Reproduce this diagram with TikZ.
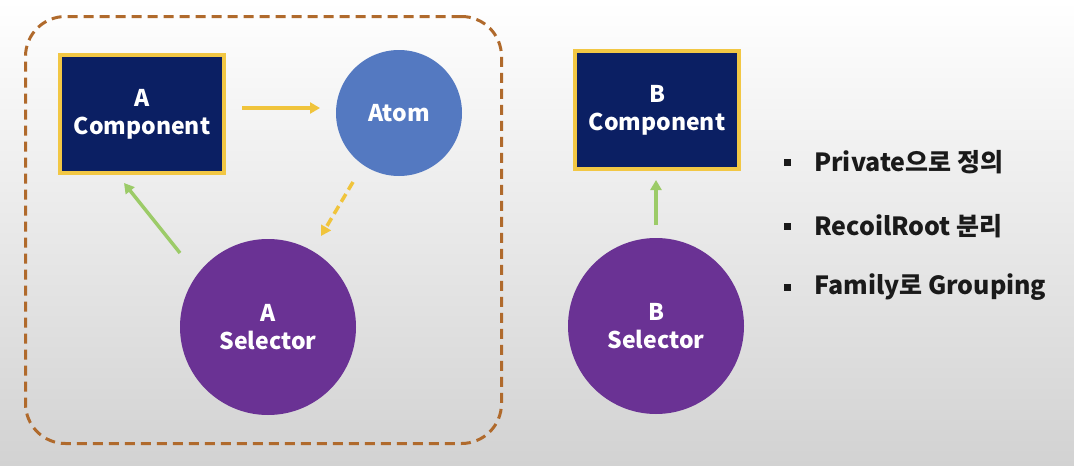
\documentclass[tikz,border=0pt]{standalone}
\usepackage{fontspec}
\setmainfont{Noto Sans CJK KR}
\usetikzlibrary{arrows.meta}
\definecolor{navy}{HTML}{0B1F63}
\definecolor{gold}{HTML}{F2C744}
\definecolor{atomblue}{HTML}{5479C1}
\definecolor{selpurple}{HTML}{6A3294}
\definecolor{brownline}{HTML}{B06A2C}
\definecolor{arrowyellow}{HTML}{F0C43C}
\definecolor{arrowgreen}{HTML}{9CCB68}
\definecolor{bggray}{HTML}{D2D2D2}
\definecolor{txt}{HTML}{1A1A1A}
\tikzset{
  nodetext/.style={text=white, font=\fontsize{23}{28}\selectfont\bfseries, align=center},
  compbox/.style={nodetext, rectangle, fill=navy, draw=gold, line width=3.5pt, minimum width=164pt, minimum height=118pt, inner sep=0pt},
  atomnode/.style={nodetext, circle, fill=atomblue, minimum size=126pt, inner sep=0pt},
  selnode/.style={nodetext, circle, fill=selpurple, minimum size=176pt, inner sep=0pt},
  groupbox/.style={draw=brownline, line width=3pt, dash pattern=on 10pt off 6pt, rounded corners=40pt, minimum width=476pt, minimum height=427pt, inner sep=0pt},
  yarrow/.style={draw=arrowyellow, line width=3.5pt, -{Triangle[length=10pt,width=11pt]}},
  garrow/.style={draw=arrowgreen, line width=3.5pt, -{Triangle[length=10pt,width=11pt]}},
  bulletsq/.style={fill=txt, minimum size=7pt, inner sep=0pt},
  bullettext/.style={anchor=west, text=txt, font=\fontsize{25}{28}\selectfont\bfseries, inner sep=0pt}
}
\begin{document}
\begin{tikzpicture}[x=1pt,y=-1pt]
\shade[top color=white, middle color=white, bottom color=bggray] (0,0) rectangle (1074,466);
\useasboundingbox (0,0) rectangle (1074,466);
\node[groupbox] (group) at (263.5,230) {};
\node[compbox] (acomp) at (142,114) {A\\Component};
\node[atomnode] (atom) at (399,113) {Atom};
\node[selnode] (asel) at (268,327) {A\\Selector};
\node[compbox] (bcomp) at (657,110) {B\\Component};
\node[selnode] (bsel) at (656,326) {B\\Selector};
\coordinate (a1) at (242,108); \coordinate (a2) at (320,108);
\draw[yarrow] (a1) -- (a2);
\coordinate (d1) at (353,182); \coordinate (d2) at (321,236);
\draw[yarrow, dash pattern=on 9pt off 5pt] (d1) -- (d2);
\coordinate (g1) at (180,253); \coordinate (g2) at (124,183);
\draw[garrow] (g1) -- (g2);
\coordinate (h1) at (656,225); \coordinate (h2) at (656,180);
\draw[garrow] (h1) -- (h2);
\node[bulletsq] (b1) at (787,162) {};
\node[bulletsq] (b2) at (787,226) {};
\node[bulletsq] (b3) at (787,287) {};
\node[bullettext] (t1) at (814,162) {Private으로 정의};
\node[bullettext] (t2) at (814,226) {RecoilRoot 분리};
\node[bullettext] (t3) at (814,287) {Family로 Grouping};
\end{tikzpicture}
\end{document}
